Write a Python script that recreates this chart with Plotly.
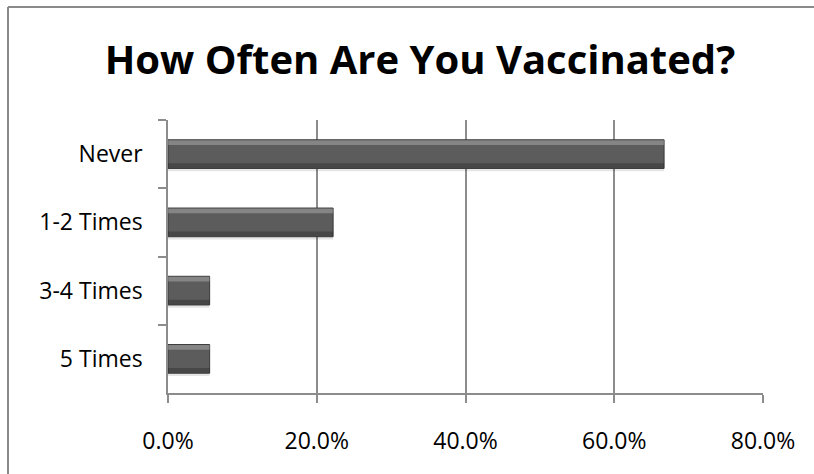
import plotly.graph_objects as go

categories = ["Never", "1-2 Times", "3-4 Times", "5 Times"]
values = [0.667, 0.222, 0.056, 0.056]
x_ticks = [0, 0.2, 0.4, 0.6, 0.8]
x_tick_labels = ["0.0%", "20.0%", "40.0%", "60.0%", "80.0%"]
title_text = "How Often Are You Vaccinated?"

W, H = 814, 474
L, R, T, B = 168, 51, 120, 81
pw, ph = W - L - R, H - T - B
FONT = "Open Sans, Lato, sans-serif"

fig = go.Figure()
# soft shadow
fig.add_trace(go.Bar(
    x=values, y=categories, orientation="h",
    marker=dict(color="rgba(0,0,0,0.10)", line=dict(width=0)),
    width=0.44, offset=-0.19, showlegend=False, hoverinfo="skip",
))
# main bar
fig.add_trace(go.Bar(
    x=values, y=categories, orientation="h",
    marker=dict(color="#5c5c5c", line=dict(color="#3a3a3a", width=1)),
    width=0.42, offset=-0.21, showlegend=False,
))
# top highlight
fig.add_trace(go.Bar(
    x=values, y=categories, orientation="h",
    marker=dict(color="rgba(255,255,255,0.25)", line=dict(width=0)),
    width=0.07, offset=-0.205, showlegend=False, hoverinfo="skip",
))
# bottom shade
fig.add_trace(go.Bar(
    x=values, y=categories, orientation="h",
    marker=dict(color="rgba(0,0,0,0.22)", line=dict(width=0)),
    width=0.07, offset=0.135, showlegend=False, hoverinfo="skip",
))

bx0 = (8 - L) / pw
bx1 = (W - L) / pw
by0 = -(H - (T + ph)) / ph
by1 = (T + ph - 7) / ph

fig.update_layout(
    width=W, height=H,
    margin=dict(l=L, r=R, t=T, b=B),
    paper_bgcolor="white", plot_bgcolor="white",
    barmode="overlay",
    font=dict(family=FONT, color="black", size=23),
    title=dict(text="<b>" + title_text + "</b>", x=420 / W, xanchor="center",
               y=1 - 60 / H, yanchor="middle",
               font=dict(size=40, family=FONT, color="black")),
    xaxis=dict(range=[0, 0.8], tickvals=x_ticks, ticktext=x_tick_labels,
               showgrid=True, gridcolor="#8c8c8c", gridwidth=1.5,
               showline=True, linecolor="#8c8c8c", linewidth=1.5,
               ticks="outside", ticklen=8, tickcolor="#8c8c8c", tickwidth=1.5,
               ticklabelstandoff=19, zeroline=False, fixedrange=True),
    yaxis=dict(categoryorder="array", categoryarray=categories, autorange="reversed",
               showline=True, linecolor="#8c8c8c", linewidth=1.5,
               ticks="outside", ticklen=8, tickcolor="#8c8c8c", tickwidth=1.5,
               tickson="boundaries", showgrid=False, ticklabelstandoff=19),
    shapes=[
        dict(type="line", xref="paper", yref="paper", x0=bx0, x1=bx0, y0=by0, y1=by1,
             line=dict(color="#8a8a8a", width=2), layer="below"),
        dict(type="line", xref="paper", yref="paper", x0=bx0, x1=bx1, y0=by1, y1=by1,
             line=dict(color="#8a8a8a", width=2), layer="below"),
    ],
)

fig.write_html("out.html", config={"displayModeBar": False},
               post_script="document.body.style.margin='0';document.body.style.overflow='hidden';")
